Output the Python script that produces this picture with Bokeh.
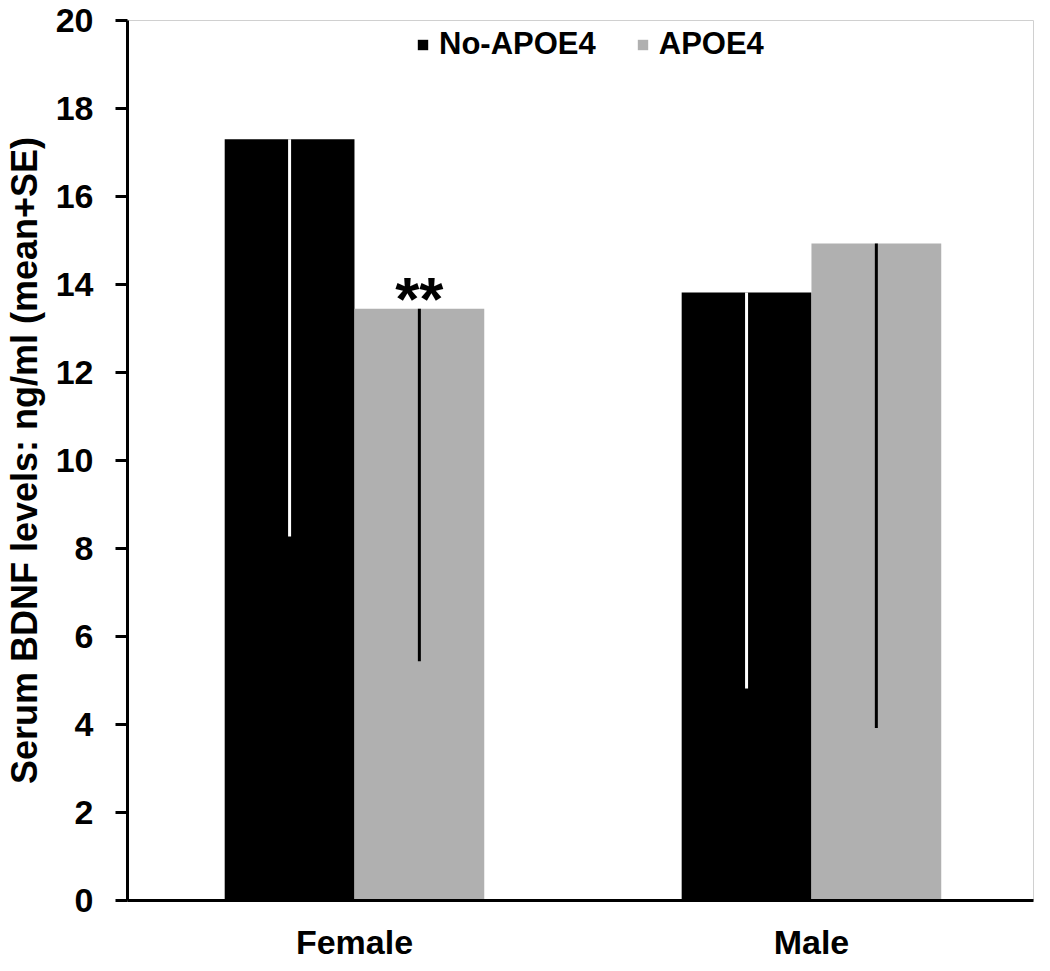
from bokeh.plotting import figure
from bokeh.models import ColumnDataSource, Range1d, FixedTicker, Legend, LegendItem
from bokeh.core.properties import value
from bokeh.embed import file_html
from bokeh.resources import INLINE

# ---- data ----
categories = ["Female", "Male"]
series_names = ["No-APOE4", "APOE4"]
no_apoe4_mean = [17.30, 13.82]
no_apoe4_low = [8.27, 4.82]
apoe4_mean = [13.45, 14.93]
apoe4_low = [5.44, 3.92]
y_ticks = [0, 2, 4, 6, 8, 10, 12, 14, 16, 18, 20]
sig_label = ["**", ""]

FONT = "Liberation Sans"
BLACK = "#000000"
GRAY = "#b0b0b0"

cat_pos = list(range(len(categories)))
bar_w = 0.284
off = 0.142

p = figure(width=1034, height=963, output_backend="svg", toolbar_location=None,
           x_range=Range1d(-0.4967, 1.4859), y_range=Range1d(0, 20),
           min_border_left=119, min_border_right=1, min_border_top=20, min_border_bottom=62)
p.background_fill_color = "white"
p.border_fill_color = "white"
p.outline_line_color = "#d0d0d0"
p.outline_line_width = 1
p.xgrid.visible = False
p.ygrid.visible = False

src_no = ColumnDataSource(dict(x=[c - off for c in cat_pos], top=no_apoe4_mean, low=no_apoe4_low))
src_ap = ColumnDataSource(dict(x=[c + off for c in cat_pos], top=apoe4_mean, low=apoe4_low,
                               lab=sig_label))

r_no = p.vbar(x="x", top="top", bottom=0, width=bar_w, source=src_no,
              fill_color=BLACK, line_color=None)
r_ap = p.vbar(x="x", top="top", bottom=0, width=bar_w, source=src_ap,
              fill_color=GRAY, line_color=None)

p.segment(x0="x", y0="top", x1="x", y1="low", source=src_no, line_color="white", line_width=3)
p.segment(x0="x", y0="top", x1="x", y1="low", source=src_ap, line_color="black", line_width=3)

p.text(x="x", y="top", text="lab", source=src_ap, text_font=value(FONT),
       text_font_style="bold", text_font_size="62px", text_align="center",
       text_baseline="alphabetic", text_color="black", y_offset=-10)

# axes
p.xaxis.ticker = FixedTicker(ticks=cat_pos)
p.xaxis.major_label_overrides = {i: c for i, c in zip(cat_pos, categories)}
p.xaxis.major_tick_out = 0
p.xaxis.major_tick_in = 0
p.xaxis.minor_tick_out = 0
p.xaxis.minor_tick_in = 0
p.xaxis.axis_line_width = 3
p.xaxis.axis_line_color = "black"
p.xaxis.major_label_text_font = FONT
p.xaxis.major_label_text_font_style = "bold"
p.xaxis.major_label_text_font_size = "34px"
p.xaxis.major_label_text_color = "black"
p.xaxis.major_label_standoff = 22

p.yaxis.ticker = FixedTicker(ticks=y_ticks)
p.yaxis.major_tick_out = 12
p.yaxis.major_tick_in = 0
p.yaxis.minor_tick_out = 0
p.yaxis.minor_tick_in = 0
p.yaxis.major_tick_line_width = 3
p.yaxis.axis_line_width = 3
p.yaxis.axis_line_color = "black"
p.yaxis.major_label_text_font = FONT
p.yaxis.major_label_text_font_style = "bold"
p.yaxis.major_label_text_font_size = "34px"
p.yaxis.major_label_text_color = "black"
p.yaxis.major_label_standoff = 22
p.yaxis.axis_label = "Serum BDNF levels: ng/ml (mean+SE)"
p.yaxis.axis_label_text_font = FONT
p.yaxis.axis_label_text_font_style = "bold"
p.yaxis.axis_label_text_font_size = "36px"
p.yaxis.axis_label_text_color = "black"
p.yaxis.axis_label_standoff = 8

legend = Legend(items=[LegendItem(label=series_names[0], renderers=[r_no]),
                       LegendItem(label=series_names[1], renderers=[r_ap])],
                location=(287, 836), orientation="horizontal")
legend.label_text_font = FONT
legend.label_text_font_style = "bold"
legend.label_text_font_size = "31px"
legend.label_text_color = "black"
legend.glyph_width = 13
legend.glyph_height = 13
legend.label_standoff = 10
legend.spacing = 40
legend.padding = 2
legend.margin = 0
legend.border_line_alpha = 0
legend.background_fill_alpha = 0
p.add_layout(legend)

open("out.html", "w").write(file_html(p, INLINE))
